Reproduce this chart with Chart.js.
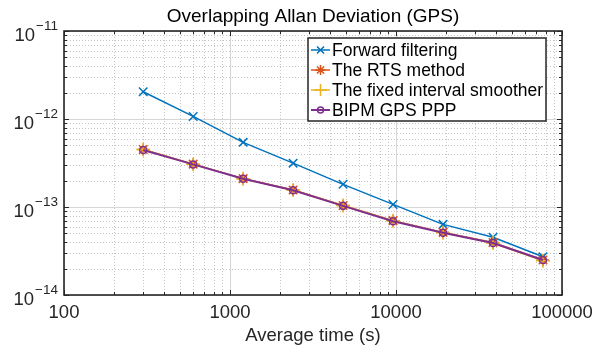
<!DOCTYPE html>
<html>
<head>
<meta charset="utf-8">
<script src="https://cdn.jsdelivr.net/npm/chart.js@4/dist/chart.umd.min.js"></script>
<style>
  html, body { margin: 0; padding: 0; background: #fff; }
</style>
</head>
<body>
<canvas id="adevChart" width="600" height="349"></canvas>
<script>
// averaging times (s)
const tau = [300, 600, 1200, 2400, 4800, 9600, 19200, 38400, 76800];

// overlapping Allan deviation
const forwardFiltering = [2.04e-12, 1.07e-12, 5.43e-13, 3.15e-13, 1.81e-13, 1.07e-13, 6.35e-14, 4.53e-14, 2.72e-14];
const rtsMethod = [4.5e-13, 3.07e-13, 2.1e-13, 1.56e-13, 1.04e-13, 7.0e-14, 5.15e-14, 3.95e-14, 2.5e-14];
const fixedInterval = [4.5e-13, 3.07e-13, 2.1e-13, 1.56e-13, 1.04e-13, 7.0e-14, 5.1e-14, 3.9e-14, 2.45e-14];
const bipmPpp = [4.45e-13, 3.05e-13, 2.09e-13, 1.55e-13, 1.03e-13, 6.9e-14, 5.1e-14, 3.9e-14, 2.5e-14];

const xTickLabels = [100, 1000, 10000, 100000];
const yTickExps = [-11, -12, -13, -14];

const seriesNames = ["Forward filtering", "The RTS method", "The fixed interval smoother", "BIPM GPS PPP"];
const seriesColors = ["#0072BD", "#D95319", "#EDB120", "#7E2F8E"];
const lineWidths = [1.5, 1.5, 1.5, 2];

const FONT = "'Liberation Sans', Arial, sans-serif";
const AXIS = "#262626";

function toPoints(ys) {
  return tau.map((t, i) => ({ x: t, y: ys[i] }));
}

const markerOpts = [
  { pointStyle: "crossRot", radius: 6 },
  { pointStyle: "star", radius: 6 },
  { pointStyle: "cross", radius: 7 },
  { pointStyle: "circle", radius: 3.5 },
];

function minorValues(lo, hi) {
  const out = [];
  for (let d = lo; d < hi; d *= 10) {
    for (let k = 1; k < 10; k++) out.push({ v: d * k, major: k === 1 });
  }
  out.push({ v: hi, major: true });
  return out;
}

// grid under the data (MATLAB style: solid majors, dotted minors)
const gridPlugin = {
  id: "matlabGrid",
  beforeDatasetsDraw(chart) {
    const { ctx, chartArea: a, scales } = chart;
    ctx.save();
    ctx.lineWidth = 1;
    minorValues(100, 100000).forEach(({ v, major }) => {
      const x = Math.round(scales.x.getPixelForValue(v)) + 0.5;
      ctx.strokeStyle = major ? "#d6d6d6" : "#c4c4c4";
      ctx.setLineDash(major ? [] : [1, 2]);
      ctx.beginPath(); ctx.moveTo(x, a.top); ctx.lineTo(x, a.bottom); ctx.stroke();
    });
    minorValues(1e-14, 1e-11).forEach(({ v, major }) => {
      const y = Math.round(scales.y.getPixelForValue(v)) + 0.5;
      ctx.strokeStyle = major ? "#d6d6d6" : "#c4c4c4";
      ctx.setLineDash(major ? [] : [1, 2]);
      ctx.beginPath(); ctx.moveTo(a.left, y); ctx.lineTo(a.right, y); ctx.stroke();
    });
    ctx.restore();
  },
  afterDatasetsDraw(chart) {
    const { ctx, chartArea: a, scales } = chart;
    ctx.save();
    ctx.setLineDash([]);
    ctx.strokeStyle = AXIS;

    // tick marks inside the box
    ctx.lineWidth = 1;
    minorValues(100, 100000).forEach(({ v, major }) => {
      const x = Math.round(scales.x.getPixelForValue(v)) + 0.5;
      const len = major ? 5 : 3;
      ctx.beginPath();
      ctx.moveTo(x, a.bottom); ctx.lineTo(x, a.bottom - len);
      ctx.moveTo(x, a.top); ctx.lineTo(x, a.top + len);
      ctx.stroke();
    });
    minorValues(1e-14, 1e-11).forEach(({ v, major }) => {
      const y = Math.round(scales.y.getPixelForValue(v)) + 0.5;
      const len = major ? 5 : 3;
      ctx.beginPath();
      ctx.moveTo(a.left, y); ctx.lineTo(a.left + len, y);
      ctx.moveTo(a.right, y); ctx.lineTo(a.right - len, y);
      ctx.stroke();
    });

    // box
    ctx.lineWidth = 1.6;
    ctx.strokeRect(a.left, a.top, a.right - a.left, a.bottom - a.top);

    // x tick labels
    ctx.fillStyle = AXIS;
    ctx.font = "18.5px " + FONT;
    ctx.textAlign = "center";
    ctx.textBaseline = "middle";
    xTickLabels.forEach((v) => {
      ctx.fillText(String(v), scales.x.getPixelForValue(v), a.bottom + 18);
    });

    // y tick labels 10^n
    yTickExps.forEach((e) => {
      const y = scales.y.getPixelForValue(Math.pow(10, e));
      const exp = "\u2212" + String(-e);
      ctx.font = "13.5px " + FONT;
      ctx.textAlign = "right";
      ctx.textBaseline = "middle";
      ctx.fillText(exp, a.left - 6, y - 5);
      const ew = ctx.measureText(exp).width;
      ctx.font = "18.5px " + FONT;
      ctx.fillText("10", a.left - 7 - ew, y + 5);
    });

    // axis label and title
    ctx.textAlign = "center";
    ctx.font = "18.5px " + FONT;
    ctx.fillText("Average time (s)", (a.left + a.right) / 2, 336);
    ctx.fillStyle = "#000";
    ctx.font = "19px " + FONT;
    ctx.fillText("Overlapping Allan Deviation (GPS)", (a.left + a.right) / 2, 17);

    // legend box
    const lx = 308, ly = 38, lw = 238, lh = 83;
    ctx.fillStyle = "#fff";
    ctx.fillRect(lx, ly, lw, lh);
    ctx.lineWidth = 1.5;
    ctx.strokeStyle = AXIS;
    ctx.strokeRect(lx, ly, lw, lh);
    ctx.font = "17.5px " + FONT;
    ctx.textAlign = "left";
    seriesNames.forEach((name, i) => {
      const cy = ly + 12 + i * 20;
      ctx.strokeStyle = seriesColors[i];
      ctx.lineWidth = lineWidths[i];
      ctx.beginPath(); ctx.moveTo(lx + 3, cy); ctx.lineTo(lx + 22, cy); ctx.stroke();
      ctx.fillStyle = "rgba(0,0,0,0)";
      ctx.lineWidth = 1.5;
      Chart.helpers.drawPoint(ctx, {
        pointStyle: markerOpts[i].pointStyle,
        radius: markerOpts[i].pointStyle === "circle" ? 3 : markerOpts[i].radius - 1,
        borderWidth: 1.5,
        rotation: 0,
      }, lx + 12.5, cy);
      ctx.fillStyle = "#000";
      ctx.fillText(name, lx + 24, cy + 1);
    });
    ctx.restore();
  },
};

const allSeries = [forwardFiltering, rtsMethod, fixedInterval, bipmPpp];

new Chart(document.getElementById("adevChart"), {
  type: "line",
  data: {
    datasets: allSeries.map((ys, i) => ({
      label: seriesNames[i],
      data: toPoints(ys),
      borderColor: seriesColors[i],
      backgroundColor: "rgba(0,0,0,0)",
      borderWidth: lineWidths[i],
      pointStyle: markerOpts[i].pointStyle,
      pointRadius: markerOpts[i].radius,
      pointBorderWidth: 1.5,
      pointBorderColor: seriesColors[i],
      pointBackgroundColor: "rgba(0,0,0,0)",
      tension: 0,
      order: allSeries.length - i,
    })),
  },
  options: {
    responsive: false,
    animation: false,
    events: [],
    layout: { padding: { top: 31, right: 38, left: 0, bottom: 0 } },
    plugins: { legend: { display: false }, title: { display: false }, tooltip: { enabled: false } },
    scales: {
      x: {
        type: "logarithmic",
        min: 100,
        max: 100000,
        grid: { display: false },
        border: { display: false },
        ticks: { display: false },
        afterFit: (s) => { s.height = 54; },
      },
      y: {
        type: "logarithmic",
        min: 1e-14,
        max: 1e-11,
        grid: { display: false },
        border: { display: false },
        ticks: { display: false },
        afterFit: (s) => { s.width = 64; },
      },
    },
  },
  plugins: [gridPlugin],
});
</script>
</body>
</html>
